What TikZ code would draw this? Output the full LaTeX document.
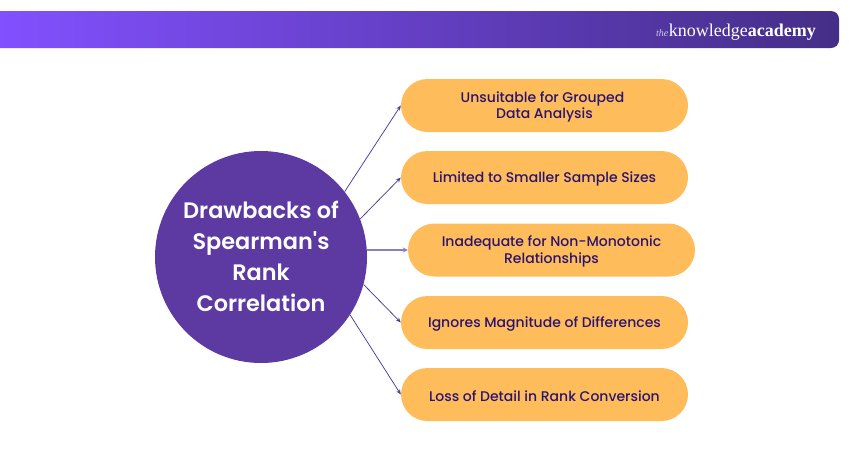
\documentclass[tikz,border=0pt]{standalone}
\usepackage{fontspec}
\setmainfont{Poppins Medium}
\newfontfamily\circfont{Poppins SemiBold}
\newfontfamily\logofont{Liberation Serif}
\usetikzlibrary{arrows.meta}
\definecolor{pill}{HTML}{FFBC5B}
\definecolor{ink}{HTML}{2B1470}
\definecolor{hub}{HTML}{5C3AA2}
\definecolor{wire}{HTML}{4F3A9A}
\definecolor{barl}{HTML}{8250FF}
\definecolor{barr}{HTML}{452E87}
\newcommand\pl[1]{\raisebox{-1.5pt}[\height][\depth]{#1}}
\newcommand\hl[1]{\raisebox{1pt}[\height][\depth]{#1}}
\tikzset{
  pillbox/.style={fill=pill,rounded corners=26.5pt,minimum width=287pt,minimum height=53pt,inner sep=0pt,text=ink,align=center,font=\fontsize{14}{16.2}\selectfont},
  hubnode/.style={circle,fill=hub,minimum size=212pt,inner sep=0pt,text=white,align=center,font=\circfont\fontsize{22.4}{31}\selectfont},
  link/.style={draw=wire,line width=0.75pt,-{Stealth[length=5pt,width=4pt]}},
  linkb/.style={draw=wire!65,line width=1.3pt,-{Stealth[length=5pt,width=5pt]}}
}
\begin{document}
\begin{tikzpicture}[x=1pt,y=-1pt]
\useasboundingbox (0,0) rectangle (850,450);
\fill[white] (0,0) rectangle (850,450);
\shade[left color=barl,right color=barr] (0,11) [rounded corners=8pt] -- (839,11) -- (839,48) [sharp corners] -- (0,48) -- cycle;
\node[anchor=base west,inner sep=0pt,text=white!75!barr,font=\logofont\itshape\fontsize{10}{12}\selectfont] (the) at (656,36) {the};
\node[anchor=base west,inner sep=0pt,text=white,font=\logofont\fontsize{18}{20}\selectfont] (kn) at (the.base east) {knowledge\textbf{academy}};
\node[hubnode] (c) at (261,257) {\hl{Drawbacks of}\\\hl{Spearman's}\\\hl{Rank}\\\hl{Correlation}};
\node[pillbox] (p1) at (544.5,105.5) {\pl{\hspace{-4pt}Unsuitable for Grouped}\\\pl{Data Analysis}};
\node[pillbox] (p2) at (544.5,177.5) {\pl{Limited to Smaller Sample Sizes}};
\node[pillbox] (p3) at (551.5,250) {\pl{Inadequate for Non-Monotonic}\\\pl{Relationships}};
\node[pillbox] (p4) at (544.5,322.5) {\pl{Ignores Magnitude of Differences}};
\node[pillbox] (p5) at (544.5,394.5) {\pl{Loss of Detail in Rank Conversion}};
\draw[link] (c.38) -- (p1.west);
\draw[link] (c.21.5) -- (p2.west);
\draw[linkb] (c.3.8 |- p3.west) -- (p3.west);
\draw[link] (c.-15.4) -- (p4.west);
\draw[link] (c.-33.5) -- (p5.west);
\end{tikzpicture}
\end{document}
